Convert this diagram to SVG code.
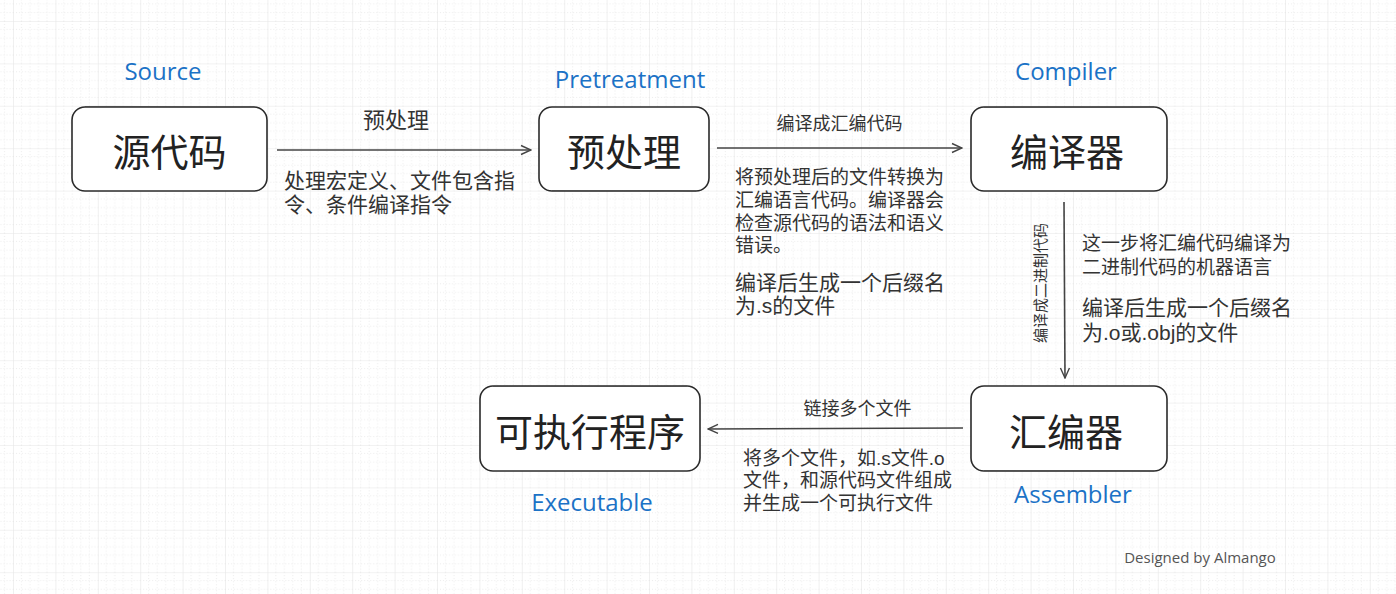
<svg xmlns="http://www.w3.org/2000/svg" width="1396" height="594" viewBox="0 0 1396 594">
<defs>
<pattern id="grid" patternUnits="userSpaceOnUse" x="13" y="21" width="42.4" height="42.4">
<path d="M8.48 0V42.4M16.96 0V42.4M25.44 0V42.4M33.92 0V42.4M0 8.48H42.4M0 16.96H42.4M0 25.44H42.4M0 33.92H42.4" stroke="#ececec" stroke-width="1" stroke-dasharray="1 2" fill="none"/>
<path d="M0 0V42.4M0 0H42.4" stroke="#e6e6e6" stroke-width="1.2" fill="none"/>
</pattern>
<marker id="arr" viewBox="0 0 12 12" refX="11" refY="6" markerWidth="12" markerHeight="12" markerUnits="userSpaceOnUse" orient="auto">
<path d="M1 1.5L11 6L1 10.5" fill="none" stroke="#444" stroke-width="1.4"/>
</marker>
<style>
.box{fill:#fff;stroke:#2b2b2b;stroke-width:1.6}
.box2{fill:none;stroke:#2b2b2b;stroke-width:0.6;opacity:.6}
.node{font-family:"Liberation Sans","Noto Sans CJK SC",sans-serif;font-size:38px;fill:#222;text-anchor:middle}
.en{font-family:"Open Sans",sans-serif;font-size:24px;fill:#1b72c6;text-anchor:middle}
.cn{font-family:"Liberation Sans","Noto Sans CJK SC",sans-serif;fill:#333}
.conn{stroke:#444;stroke-width:1.6;fill:none}
</style>
</defs>
<rect width="1396" height="594" fill="#fff"/>
<rect width="1396" height="594" fill="url(#grid)"/>

<g id="connectors">
<path class="conn" d="M277 150L531 150" marker-end="url(#arr)"/>
<path class="conn" d="M717 148L962 148" marker-end="url(#arr)"/>
<path class="conn" d="M1064 202L1065 378" marker-end="url(#arr)"/>
<path class="conn" d="M963 428L708 429" marker-end="url(#arr)"/>
<text class="cn" x="396" y="128" font-size="22" text-anchor="middle">预处理</text>
<text class="cn" font-size="21"><tspan x="284" y="188">处理宏定义、文件包含指</tspan><tspan x="284" y="212">令、条件编译指令</tspan></text>
<text class="cn" x="839.5" y="130" font-size="18" text-anchor="middle">编译成汇编代码</text>
<text class="cn" font-size="19"><tspan x="735" y="184">将预处理后的文件转换为</tspan><tspan x="735" y="207">汇编语言代码。编译器会</tspan><tspan x="735" y="230">检查源代码的语法和语义</tspan><tspan x="735" y="252">错误。</tspan></text>
<text class="cn" font-size="21"><tspan x="735" y="290">编译后生成一个后缀名</tspan><tspan x="735" y="313">为.s的文件</tspan></text>
<text class="cn" font-size="15" text-anchor="middle" transform="translate(1046 283) rotate(-90)">编译成二进制代码</text>
<text class="cn" font-size="19"><tspan x="1082" y="250">这一步将汇编代码编译为</tspan><tspan x="1082" y="274">二进制代码的机器语言</tspan></text>
<text class="cn" font-size="21"><tspan x="1082" y="315">编译后生成一个后缀名</tspan><tspan x="1082" y="340">为.o或.obj的文件</tspan></text>
<text class="cn" x="857.5" y="415" font-size="18" text-anchor="middle">链接多个文件</text>
<text class="cn" font-size="19"><tspan x="743" y="465">将多个文件，如.s文件.o</tspan><tspan x="743" y="487">文件，和源代码文件组成</tspan><tspan x="743" y="510">并生成一个可执行文件</tspan></text>
</g>

<g id="source">
<rect class="box" x="72" y="107" width="195" height="84" rx="13"/>
<path class="box2" d="M85 106.5C140 106 200 107.5 254 106.8"/>
<text class="node" x="169.5" y="166">源代码</text>
<text class="en" x="163" y="80">Source</text>
</g>
<g id="pretreatment">
<rect class="box" x="539" y="107" width="170" height="84" rx="13"/>
<path class="box2" d="M552 190.5C600 191.3 650 190.2 696 191"/>
<text class="node" x="624" y="166">预处理</text>
<text class="en" x="630" y="88">Pretreatment</text>
</g>
<g id="compiler">
<rect class="box" x="971" y="107" width="196" height="84" rx="13"/>
<path class="box2" d="M984 107.5C1040 106.6 1100 107.8 1154 106.9"/>
<text class="node" x="1067" y="166">编译器</text>
<text class="en" x="1066" y="80">Compiler</text>
</g>
<g id="assembler">
<rect class="box" x="971" y="386" width="196" height="85" rx="13"/>
<path class="box2" d="M984 470.5C1040 471.3 1100 470.2 1154 471"/>
<text class="node" x="1066" y="446">汇编器</text>
<text class="en" x="1073" y="503">Assembler</text>
</g>
<g id="executable">
<rect class="box" x="480" y="386" width="220" height="85" rx="13"/>
<path class="box2" d="M493 386.5C560 385.7 630 387 687 386.2"/>
<text class="node" x="590" y="446" font-size="37">可执行程序</text>
<text class="en" x="592" y="511">Executable</text>
</g>
<text x="1200" y="563" font-family="Open Sans, sans-serif" font-size="15" fill="#555" text-anchor="middle">Designed by Almango</text>
</svg>
